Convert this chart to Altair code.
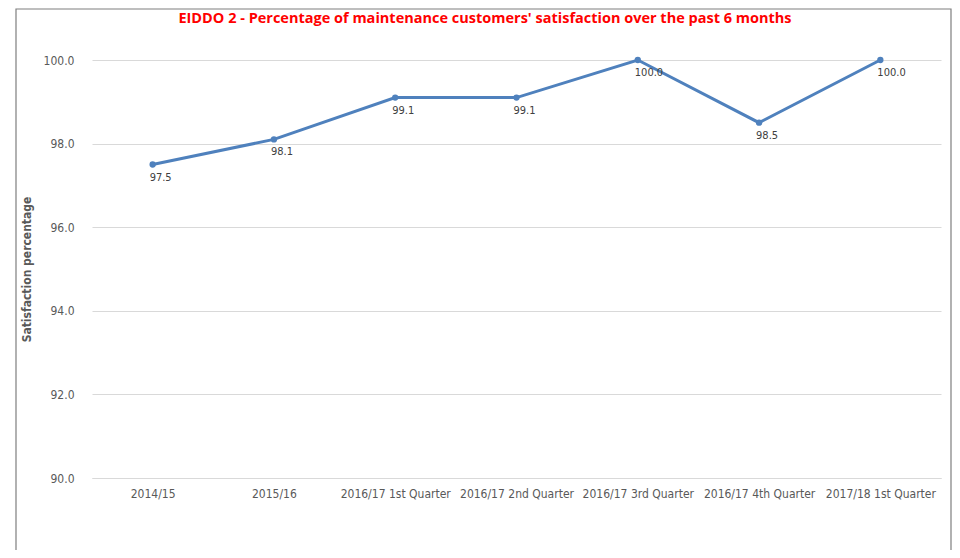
import altair as alt
import pandas as pd

categories = ["2014/15", "2015/16", "2016/17 1st Quarter", "2016/17 2nd Quarter",
              "2016/17 3rd Quarter", "2016/17 4th Quarter", "2017/18 1st Quarter"]
values = [97.5, 98.1, 99.1, 99.1, 100.0, 98.5, 100.0]
title_text = ["EIDDO 2 - Percentage of maintenance customers' satisfaction over the past 6 months"]

df = pd.DataFrame({"period": categories, "pct": values})
df["label"] = df["pct"].map(lambda v: f"{v:.1f}")

FONT = "Liberation Sans Narrow, DejaVu Sans Condensed, Roboto"
W, H = 849, 418
PL, PT = 84, 52
PR = 960 - 16 - PL - W
PB = 558 - 16 - PT - H

x = alt.X("period:N", sort=categories, title=None,
          scale=alt.Scale(paddingInner=0, paddingOuter=0),
          axis=alt.Axis(labelAngle=0, labelColor="#595959", labelFontSize=12,
                        labelFont=FONT, ticks=False, domain=True,
                        domainColor="#d9d9d9", labelPadding=10, grid=False))
y = alt.Y("pct:Q", title="Satisfaction percentage",
          scale=alt.Scale(domain=[90, 100], nice=False, zero=False),
          axis=alt.Axis(values=[90, 92, 94, 96, 98, 100], format=".1f",
                        labelColor="#595959", labelFontSize=12, labelFont=FONT,
                        ticks=False, domain=False, gridColor="#d9d9d9",
                        labelPadding=18, titleFont=FONT, titleFontSize=12,
                        titleFontWeight="bold", titleColor="#595959",
                        titlePadding=10))

base = alt.Chart(df)
line = base.mark_line(color="#4f81bd", strokeWidth=3).encode(x=x, y=y)
pts = base.mark_circle(color="#4f81bd", size=40, opacity=1).encode(x=x, y=y)
labels = base.mark_text(align="left", baseline="top", dx=-3, dy=7,
                        fontSize=11, font=FONT, color="#404040").encode(
    x=x, y=y, text="label:N")

frame = alt.Chart(pd.DataFrame({"a": [0]})).mark_rect(
    fill=None, stroke="#7f7f7f", strokeWidth=1.2).encode(
    x=alt.value(16 - 8 - PL), x2=alt.value(951 - 8 - PL),
    y=alt.value(1 - PT), y2=alt.value(H + 120))

title = alt.Chart(pd.DataFrame({"t": title_text})).mark_text(
    color="#ff0000", fontSize=14.5, font="Open Sans, Liberation Sans",
    fontWeight="bold", align="center", baseline="middle").encode(
    x=alt.value(485 - 8 - PL), y=alt.value(19 - 8 - PT), text="t:N")

chart = alt.layer(frame, title, line, pts, labels).properties(
    width=W, height=H,
    background="white",
    autosize=alt.AutoSizeParams(type="none"),
    padding={"left": PL, "top": PT, "right": PR, "bottom": PB},
).configure_view(stroke=None)

chart.save("out.html", embed_options={"renderer": "svg", "actions": False})
